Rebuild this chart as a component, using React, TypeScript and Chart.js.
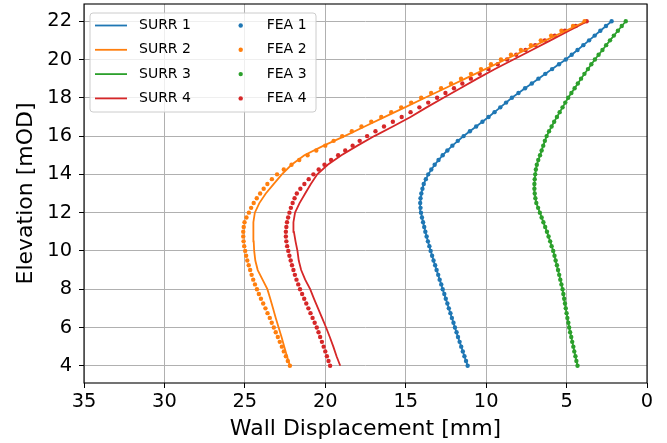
import React, { useEffect, useRef } from 'react';
import { Chart, registerables } from 'chart.js';

Chart.register(...registerables);

// ---------------- data ----------------
const SURR_LABELS = ['SURR 1', 'SURR 2', 'SURR 3', 'SURR 4'];
const FEA_LABELS = ['FEA 1', 'FEA 2', 'FEA 3', 'FEA 4'];
const COLORS = ['#1f77b4', '#ff7f0e', '#2ca02c', '#d62728'];

const X_TICKS = [0, 5, 10, 15, 20, 25, 30, 35];
const Y_TICKS = [4, 6, 8, 10, 12, 14, 16, 18, 20, 22];

// elevations (mOD) of the SURR line vertices
const SURR_ELEV = [
  4, 4.5, 5, 5.5, 6, 6.5, 7, 7.5, 8, 8.5, 9, 9.5, 10, 10.5, 11, 11.5, 12, 12.5,
  13, 13.5, 14, 14.5, 15, 15.5, 16, 16.5, 17, 17.5, 18, 18.5, 19, 19.5, 20, 20.5,
  21, 21.5, 22,
];

const SURR1 = [
  11.15, 11.35, 11.55, 11.75, 11.94, 12.13, 12.32, 12.51, 12.70, 12.89, 13.08, 13.27,
  13.45, 13.62, 13.78, 13.92, 14.05, 14.10, 14.03, 13.88, 13.60, 13.20, 12.70, 12.10,
  11.40, 10.62, 9.85, 9.12, 8.40, 7.58, 6.75, 5.90, 5.05, 4.32, 3.60, 2.90, 2.20,
];
const SURR2 = [
  22.20, 22.38, 22.55, 22.72, 22.90, 23.08, 23.25, 23.42, 23.60, 23.90, 24.20, 24.35,
  24.42, 24.45, 24.47, 24.47, 24.38, 24.10, 23.70, 23.20, 22.70, 22.10, 21.30, 20.10,
  18.80, 17.55, 16.30, 15.05, 13.80, 12.55, 11.30, 10.05, 8.80, 7.55, 6.30, 5.05, 3.80,
];
const SURR3 = [
  4.32, 4.45, 4.58, 4.71, 4.84, 4.95, 5.05, 5.15, 5.25, 5.39, 5.53, 5.68,
  5.83, 6.02, 6.22, 6.44, 6.66, 6.88, 6.98, 7.00, 6.95, 6.85, 6.65, 6.45,
  6.24, 5.93, 5.60, 5.25, 4.90, 4.50, 4.10, 3.67, 3.24, 2.77, 2.30, 1.81, 1.32,
];
const SURR4 = [
  19.07, 19.30, 19.50, 19.72, 19.95, 20.20, 20.45, 20.70, 20.94, 21.25, 21.50, 21.65,
  21.73, 21.85, 21.95, 21.98, 21.88, 21.60, 21.25, 20.90, 20.50, 19.85, 19.00, 18.00,
  16.95, 15.80, 14.70, 13.70, 12.65, 11.60, 10.55, 9.45, 8.30, 7.15, 6.00, 4.85, 3.70,
];

// elevations (mOD) of the FEA nodes
const FEA_ELEV = [
  4, 4.25, 4.5, 4.75, 5, 5.25, 5.5, 5.75,
  6, 6.25, 6.5, 6.75, 7, 7.25, 7.5, 7.75,
  8, 8.25, 8.5, 8.75, 9, 9.25, 9.5, 9.75,
  10, 10.25, 10.5, 10.75, 11, 11.25, 11.5, 11.75,
  12, 12.25, 12.5, 12.75, 13, 13.25, 13.5, 13.75,
  14, 14.25, 14.5, 14.75, 15, 15.25, 15.5, 15.75,
  16, 16.25, 16.5, 16.75, 17, 17.25, 17.5, 17.75,
  18, 18.25, 18.5, 18.75, 19, 19.25, 19.5, 19.75,
  20, 20.25, 20.5, 20.75, 21, 21.25, 21.5, 21.75,
  22,
];

const FEA1 = [
  11.15, 11.25, 11.35, 11.45, 11.55, 11.65, 11.75, 11.84,
  11.94, 12.03, 12.13, 12.22, 12.32, 12.41, 12.51, 12.60,
  12.70, 12.79, 12.89, 12.98, 13.08, 13.17, 13.27, 13.36,
  13.45, 13.53, 13.62, 13.70, 13.78, 13.85, 13.92, 13.99,
  14.05, 14.08, 14.10, 14.08, 14.03, 13.96, 13.88, 13.75,
  13.60, 13.41, 13.20, 12.96, 12.70, 12.41, 12.10, 11.76,
  11.40, 11.01, 10.62, 10.23, 9.85, 9.48, 9.12, 8.76,
  8.40, 7.99, 7.58, 7.16, 6.75, 6.32, 5.90, 5.47,
  5.05, 4.68, 4.32, 3.96, 3.60, 3.25, 2.90, 2.55,
  2.20,
];
const FEA2 = [
  22.20, 22.33, 22.45, 22.58, 22.70, 22.83, 22.95, 23.08,
  23.20, 23.33, 23.45, 23.59, 23.72, 23.86, 24.00, 24.13,
  24.25, 24.37, 24.48, 24.58, 24.67, 24.76, 24.85, 24.92,
  24.98, 25.04, 25.08, 25.10, 25.10, 25.07, 25.02, 24.90,
  24.75, 24.61, 24.45, 24.26, 24.05, 23.83, 23.60, 23.32,
  23.00, 22.58, 22.10, 21.62, 21.10, 20.56, 20.00, 19.48,
  18.95, 18.35, 17.75, 17.14, 16.52, 15.90, 15.28, 14.66,
  14.04, 13.42, 12.80, 12.18, 11.56, 10.94, 10.32, 9.70,
  9.08, 8.46, 7.84, 7.22, 6.60, 5.96, 5.32, 4.60,
  3.88,
];
const FEA3 = [
  4.32, 4.39, 4.45, 4.52, 4.58, 4.65, 4.71, 4.78,
  4.84, 4.89, 4.95, 5.00, 5.05, 5.10, 5.15, 5.20,
  5.25, 5.32, 5.39, 5.46, 5.53, 5.60, 5.68, 5.75,
  5.83, 5.93, 6.02, 6.12, 6.22, 6.33, 6.44, 6.55,
  6.66, 6.77, 6.88, 6.94, 6.98, 7.00, 7.00, 6.98,
  6.95, 6.91, 6.85, 6.76, 6.65, 6.55, 6.45, 6.35,
  6.24, 6.09, 5.93, 5.77, 5.60, 5.43, 5.25, 5.08,
  4.90, 4.70, 4.50, 4.30, 4.10, 3.89, 3.67, 3.46,
  3.24, 3.01, 2.77, 2.54, 2.30, 2.06, 1.81, 1.57,
  1.32,
];
const FEA4 = [
  19.70, 19.80, 19.90, 20.00, 20.10, 20.21, 20.32, 20.42,
  20.53, 20.66, 20.79, 20.92, 21.05, 21.18, 21.31, 21.44,
  21.57, 21.68, 21.79, 21.89, 21.98, 22.07, 22.15, 22.23,
  22.30, 22.37, 22.42, 22.45, 22.45, 22.42, 22.38, 22.31,
  22.23, 22.14, 22.03, 21.91, 21.77, 21.55, 21.30, 21.03,
  20.74, 20.41, 20.05, 19.64, 19.20, 18.76, 18.30, 17.86,
  17.40, 16.88, 16.35, 15.80, 15.25, 14.70, 14.15, 13.60,
  13.05, 12.53, 12.00, 11.48, 10.95, 10.40, 9.85, 9.28,
  8.70, 8.13, 7.55, 6.95, 6.35, 5.73, 5.10, 4.43,
  3.75,
];

const SURR = [SURR1, SURR2, SURR3, SURR4];
const FEA = [FEA1, FEA2, FEA3, FEA4];

const X_TITLE = 'Wall Displacement [mm]';
const Y_TITLE = 'Elevation [mOD]';

const FONT = 'DejaVu Sans';

export default function App() {
  const ref = useRef<HTMLCanvasElement>(null);

  useEffect(() => {
    const canvas = ref.current;
    if (!canvas) return;

    const pts = (xs: number[], ys: number[]) => xs.map((v, i) => ({ x: v, y: ys[i] }));

    const lineSets = SURR.map((vals, i) => ({
      type: 'scatter' as const,
      label: SURR_LABELS[i],
      data: pts(vals, SURR_ELEV),
      showLine: true,
      borderColor: COLORS[i],
      backgroundColor: COLORS[i],
      borderWidth: 1.8,
      pointRadius: 0,
      pointHoverRadius: 0,
      order: 0,
    }));
    const dotSets = FEA.map((vals, i) => ({
      type: 'scatter' as const,
      label: FEA_LABELS[i],
      data: pts(vals, FEA_ELEV),
      showLine: false,
      borderColor: COLORS[i],
      backgroundColor: COLORS[i],
      pointBackgroundColor: COLORS[i],
      pointBorderWidth: 0,
      pointRadius: 2.2,
      order: 1,
    }));

    const frame = {
      id: 'frame',
      afterDraw(chart: any) {
        const { ctx, chartArea: a } = chart;
        ctx.save();
        // spines
        ctx.strokeStyle = '#000';
        ctx.lineWidth = 1.1;
        ctx.strokeRect(a.left, a.top, a.right - a.left, a.bottom - a.top);

        // axis titles
        ctx.fillStyle = '#000';
        ctx.font = `22px "${FONT}"`;
        ctx.textAlign = 'center';
        ctx.textBaseline = 'middle';
        ctx.fillText(X_TITLE, (a.left + a.right) / 2, 429);
        ctx.save();
        ctx.translate(26, (a.top + a.bottom) / 2);
        ctx.rotate(-Math.PI / 2);
        ctx.fillText(Y_TITLE, 0, 0);
        ctx.restore();

        // legend
        const lx = a.left + 6;
        const ly = a.top + 9;
        const lw = 226;
        const lh = 99;
        const r = 3;
        ctx.beginPath();
        ctx.moveTo(lx + r, ly);
        ctx.lineTo(lx + lw - r, ly);
        ctx.quadraticCurveTo(lx + lw, ly, lx + lw, ly + r);
        ctx.lineTo(lx + lw, ly + lh - r);
        ctx.quadraticCurveTo(lx + lw, ly + lh, lx + lw - r, ly + lh);
        ctx.lineTo(lx + r, ly + lh);
        ctx.quadraticCurveTo(lx, ly + lh, lx, ly + lh - r);
        ctx.lineTo(lx, ly + r);
        ctx.quadraticCurveTo(lx, ly, lx + r, ly);
        ctx.closePath();
        ctx.globalAlpha = 0.8;
        ctx.fillStyle = '#fff';
        ctx.fill();
        ctx.globalAlpha = 1;
        ctx.strokeStyle = '#cccccc';
        ctx.lineWidth = 1;
        ctx.stroke();

        ctx.font = `14px "${FONT}"`;
        ctx.textAlign = 'left';
        ctx.textBaseline = 'middle';
        for (let i = 0; i < 4; i++) {
          const y = ly + 12.5 + i * 24.3;
          ctx.strokeStyle = COLORS[i];
          ctx.lineWidth = 1.8;
          ctx.beginPath();
          ctx.moveTo(lx + 5, y);
          ctx.lineTo(lx + 37, y);
          ctx.stroke();
          ctx.fillStyle = '#000';
          ctx.fillText(SURR_LABELS[i], lx + 49, y);

          ctx.fillStyle = COLORS[i];
          ctx.beginPath();
          ctx.arc(lx + 150.7, y, 2.2, 0, Math.PI * 2);
          ctx.fill();
          ctx.fillStyle = '#000';
          ctx.fillText(FEA_LABELS[i], lx + 176.7, y);
        }
        ctx.restore();
      },
    };

    const zeroPad = (s: any) => {
      s.paddingTop = 0;
      s.paddingBottom = 0;
      s.paddingLeft = 0;
      s.paddingRight = 0;
    };

    const chart = new Chart(canvas, {
      type: 'scatter',
      data: { datasets: [...lineSets, ...dotSets] as any },
      options: {
        responsive: false,
        animation: false,
        devicePixelRatio: 1,
        layout: { padding: { left: 0, right: 20, top: 3, bottom: 0 } },
        plugins: {
          legend: { display: false },
          tooltip: { enabled: false },
        },
        scales: {
          x: {
            type: 'linear',
            reverse: true,
            min: 0,
            max: 35,
            afterBuildTicks: (s: any) => {
              s.ticks = X_TICKS.map((v) => ({ value: v }));
            },
            afterFit: (s: any) => {
              s.height = 60;
              zeroPad(s);
            },
            grid: {
              color: '#b0b0b0',
              lineWidth: 1,
              tickLength: 5,
              tickColor: '#000',
              tickWidth: 1,
            },
            border: { display: false },
            ticks: {
              color: '#000',
              font: { family: FONT, size: 19.4 },
              padding: 2,
              maxRotation: 0,
              autoSkip: false,
            },
          },
          y: {
            type: 'linear',
            min: 3.1,
            max: 22.9,
            afterBuildTicks: (s: any) => {
              s.ticks = Y_TICKS.map((v) => ({ value: v }));
            },
            afterFit: (s: any) => {
              s.width = 84;
              zeroPad(s);
            },
            grid: {
              color: '#b0b0b0',
              lineWidth: 1,
              tickLength: 5,
              tickColor: '#000',
              tickWidth: 1,
            },
            border: { display: false },
            ticks: {
              color: '#000',
              font: { family: FONT, size: 19.4 },
              padding: 7,
              autoSkip: false,
            },
          },
        },
      },
      plugins: [frame],
    });

    return () => chart.destroy();
  }, []);

  return (
    <div style={{ position: 'absolute', left: 0, top: 0, width: 667, height: 443, background: '#fff' }}>
      <canvas ref={ref} width={667} height={443} style={{ display: 'block' }} />
    </div>
  );
}
